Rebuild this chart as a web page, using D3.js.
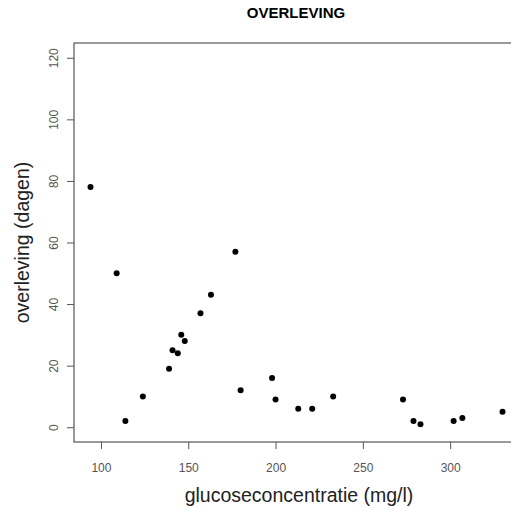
<!DOCTYPE html>
<html>
<head>
<meta charset="utf-8">
<script src="https://cdn.jsdelivr.net/npm/d3@7"></script>
<style>
  body { margin: 0; background: #fff; overflow: hidden; }
  #chart { width: 511px; height: 508px; }
  text { font-family: Arial, "Liberation Sans", sans-serif; }
</style>
</head>
<body>
<div id="chart"></div>
<script>
// glucose concentration (mg/l) and survival (days)
var glucose = [94, 109, 114, 124, 139, 141, 144, 146, 148, 157, 163, 177, 180,
               198, 200, 213, 221, 233, 273, 279, 283, 302, 307, 330];
var overleving = [78, 50, 2, 10, 19, 25, 24, 30, 28, 37, 43, 57, 12,
                  16, 9, 6, 6, 10, 9, 2, 1, 2, 3, 5];
var xTicks = [100, 150, 200, 250, 300];
var yTicks = [0, 20, 40, 60, 80, 100, 120];

var dataset = glucose.map(function(g, i) { return {x: g, y: overleving[i]}; });

// margins like R's default plot region (right side runs off the canvas)
var margin = {top: 43, right: -8, bottom: 66, left: 74},
    width = 511 - margin.left - margin.right,
    height = 508 - margin.top - margin.bottom;

// R pads the range by 4% on each side
var xExt = d3.extent(glucose), xPad = (xExt[1] - xExt[0]) * 0.04;
var xScale = d3.scaleLinear()
    .domain([xExt[0] - xPad, xExt[1] + xPad])
    .range([0, width]);

var yLim = [0, 120], yPad = (yLim[1] - yLim[0]) * 0.04;
var yScale = d3.scaleLinear()
    .domain([yLim[0] - yPad, yLim[1] + yPad])
    .range([height, 0]);

var svg = d3.select("#chart").append("svg")
    .attr("width", 511)
    .attr("height", 508);

var g = svg.append("g")
    .attr("transform", "translate(" + margin.left + "," + margin.top + ")");

// x axis
var xAxis = g.append("g")
    .attr("class", "x axis")
    .attr("transform", "translate(0," + height + ")")
    .call(d3.axisBottom(xScale).tickValues(xTicks).tickSize(7).tickPadding(14));
xAxis.select(".domain").remove();
xAxis.selectAll("line").attr("stroke", "#555");
xAxis.selectAll("text")
    .attr("fill", "#555")
    .style("font-size", "12px")
    .style("font-family", "Arial, 'Liberation Sans', sans-serif");

// y axis, labels rotated like R
var yAxis = g.append("g")
    .attr("class", "y axis")
    .call(d3.axisLeft(yScale).tickValues(yTicks).tickSize(7).tickPadding(0));
yAxis.select(".domain").remove();
yAxis.selectAll("line").attr("stroke", "#555");
yAxis.selectAll("text")
    .attr("fill", "#555")
    .attr("x", null).attr("dy", null)
    .attr("text-anchor", "middle")
    .attr("transform", "translate(-16,0) rotate(-90)")
    .style("font-size", "12px")
    .style("font-family", "Arial, 'Liberation Sans', sans-serif");

// plot box
g.append("rect")
    .attr("x", 0).attr("y", 0)
    .attr("width", width).attr("height", height)
    .attr("fill", "none")
    .attr("stroke", "#555")
    .attr("stroke-width", 1.2);

// points
g.selectAll(".dot")
    .data(dataset)
    .enter().append("circle")
    .attr("class", "dot")
    .attr("cx", function(d) { return xScale(d.x); })
    .attr("cy", function(d) { return yScale(d.y); })
    .attr("r", 3)
    .attr("fill", "#000");

// titles
svg.append("text")
    .attr("x", 296).attr("y", 18)
    .attr("text-anchor", "middle")
    .style("font-size", "15px")
    .style("font-weight", "bold")
    .attr("fill", "#000")
    .text("OVERLEVING");

svg.append("text")
    .attr("x", 299).attr("y", 502)
    .attr("text-anchor", "middle")
    .style("font-size", "19.5px")
    .attr("fill", "#222")
    .text("glucoseconcentratie (mg/l)");

svg.append("text")
    .attr("transform", "translate(29," + (margin.top + height / 2) + ") rotate(-90)")
    .attr("text-anchor", "middle")
    .style("font-size", "19.5px")
    .attr("fill", "#222")
    .text("overleving (dagen)");
</script>
</body>
</html>
